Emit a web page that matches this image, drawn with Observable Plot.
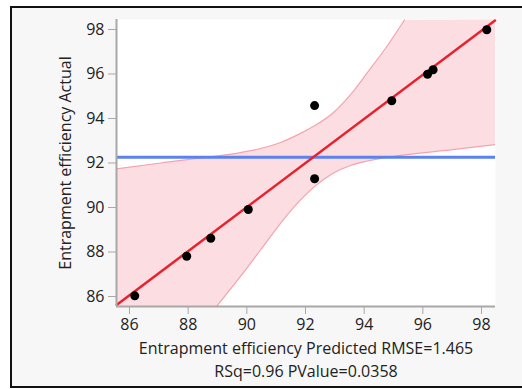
<!DOCTYPE html>
<html>
<head>
<meta charset="utf-8">
<script src="https://cdn.jsdelivr.net/npm/d3@7"></script>
<script src="https://cdn.jsdelivr.net/npm/@observablehq/plot@0.6"></script>
<style>
  html, body { margin: 0; padding: 0; background: #ffffff; overflow: hidden; width: 522px; height: 389px; }
  #frame { position: absolute; left: 10px; top: 6px; width: 600px; height: 378px; border: 2px solid #111; border-right: none; background: #f7f7f7; }
  #chart { position: absolute; left: 0; top: 0; }
  #chart svg { background: transparent; }
</style>
</head>
<body>
<div id="frame"></div>
<div id="chart"></div>
<script>
// Observed points (Predicted vs Actual)
const predicted = [86.18, 87.95, 88.77, 90.05, 92.31, 92.31, 94.94, 96.16, 96.35, 98.18];
const actual    = [86.03, 87.81, 88.62, 89.91, 94.58, 91.29, 94.80, 95.99, 96.19, 97.99];

// Axis domains and ticks
const xDomain = [85.557, 98.477];
const yDomain = [85.551, 98.449];
const ticks = [86, 88, 90, 92, 94, 96, 98];

// Fit line (red) and mean line (blue)
const fitX = [85.57, 98.46];
const fitY = [85.63, 98.40];
const meanY = 92.26;

// Upper confidence curve
const upperX = [85.557, 87.057, 88.761, 89.784, 90.466, 91.148, 91.830, 92.307, 92.955, 93.534, 94.114, 94.795, 95.375];
const upperY = [91.74, 92.00, 92.28, 92.47, 92.65, 92.92, 93.33, 93.67, 94.27, 95.07, 96.07, 97.28, 98.43];
// Lower confidence curve
const lowerX = [88.966, 89.784, 90.466, 91.250, 91.830, 92.307, 92.955, 93.534, 94.114, 95.239, 96.943, 98.477];
const lowerY = [85.55, 86.90, 88.09, 89.46, 90.34, 90.94, 91.55, 91.89, 92.09, 92.34, 92.59, 92.83];

const xTitle = "Entrapment efficiency Predicted RMSE=1.465";
const xTitle2 = "RSq=0.96 PValue=0.0358";
const yTitle = "Entrapment efficiency Actual";

const pts = predicted.map((p, i) => ({x: p, y: actual[i]}));
const upper = upperX.map((x, i) => ({x, y: upperY[i]}));
const lower = lowerX.map((x, i) => ({x, y: lowerY[i]}));
// Band polygon: upper curve, top-right corner, lower curve reversed, bottom-left corner
const band = [
  ...upper,
  {x: xDomain[1], y: yDomain[1]},
  ...lower.slice().reverse(),
  {x: xDomain[0], y: yDomain[0]}
];

const font = "'Open Sans', 'Noto Sans', sans-serif";

const chart = Plot.plot({
  width: 522,
  height: 389,
  marginLeft: 116,
  marginRight: 27,
  marginTop: 19,
  marginBottom: 83,
  style: {fontFamily: font, fontSize: "16px", color: "#222", background: "transparent"},
  x: {domain: xDomain, ticks: ticks, tickFormat: d => d},
  y: {domain: yDomain, ticks: ticks, tickFormat: d => d},
  marks: [
    Plot.frame({fill: "#ffffff", stroke: null}),
    Plot.line(band, {x: "x", y: "y", fill: "#fcdde2", stroke: null, curve: "linear", clip: true}),
    Plot.line(upper, {x: "x", y: "y", stroke: "#f5a3ad", strokeWidth: 1.2, curve: "monotone-x", clip: true}),
    Plot.line(lower, {x: "x", y: "y", stroke: "#f5a3ad", strokeWidth: 1.2, curve: "monotone-x", clip: true}),
    Plot.ruleY([meanY], {stroke: "#5b82ee", strokeWidth: 3}),
    Plot.line(fitX.map((x, i) => ({x, y: fitY[i]})), {x: "x", y: "y", stroke: "#e8222d", strokeWidth: 2.5}),
    Plot.dot(pts, {x: "x", y: "y", r: 4.5, fill: "#000", stroke: null}),
    Plot.ruleX([xDomain[0]], {stroke: "#a8a8a8", strokeWidth: 2}),
    Plot.ruleY([yDomain[0]], {stroke: "#a8a8a8", strokeWidth: 2}),
    Plot.axisX({ticks: ticks, tickSize: 8, tickPadding: 4, stroke: "#a8a8a8", label: null, fill: "#222"}),
    Plot.axisY({ticks: ticks, tickSize: 8, tickPadding: 4, stroke: "#a8a8a8", label: null, fill: "#222"}),
    Plot.text([xTitle], {frameAnchor: "bottom", dy: 47, text: d => d, fill: "#222"}),
    Plot.text([xTitle2], {frameAnchor: "bottom", dy: 70, text: d => d, fill: "#222"}),
    Plot.text([yTitle], {frameAnchor: "left", dx: -51, rotate: -90, textAnchor: "middle", text: d => d, fill: "#222"})
  ]
});
document.getElementById("chart").appendChild(chart);
</script>
</body>
</html>
